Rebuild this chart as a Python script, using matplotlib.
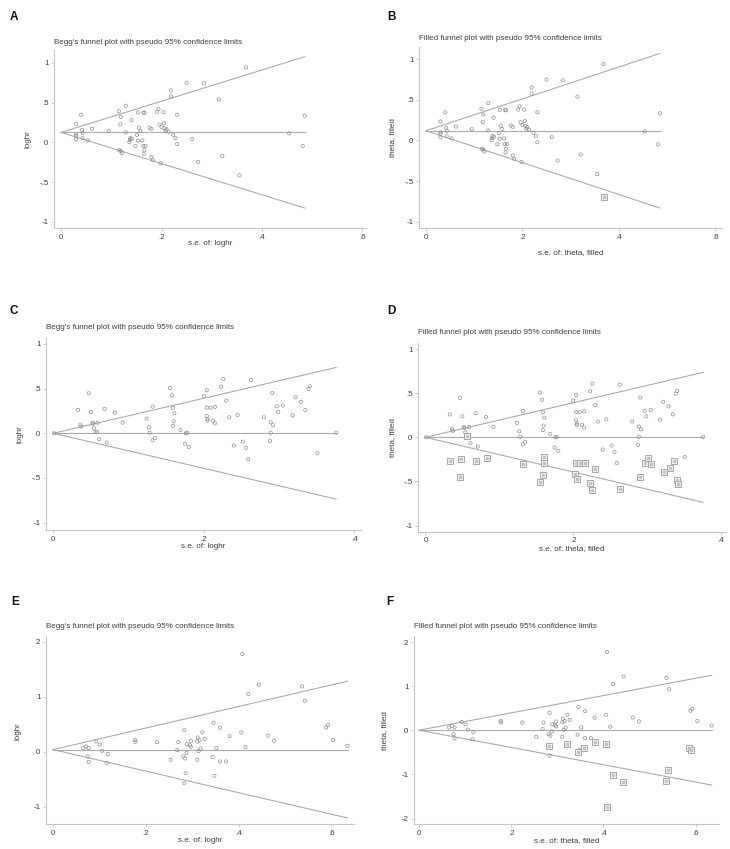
import numpy as np
import matplotlib.pyplot as plt

plt.rcParams['font.family'] = ['Liberation Sans', 'DejaVu Sans']

# ---- data ----
# A / B : first outcome (loghr against its standard error)
se_a = [0.030, 0.040, 0.030, 0.030, 0.030, 0.042, 0.043, 0.043, 0.053, 0.062,
        0.095, 0.115, 0.119, 0.129, 0.118, 0.116, 0.119, 0.121, 0.129, 0.138,
        0.140, 0.136, 0.137, 0.141, 0.148, 0.153, 0.155, 0.151, 0.158, 0.153,
        0.162, 0.164, 0.166, 0.164, 0.168, 0.166, 0.165, 0.176, 0.180, 0.180,
        0.183, 0.191, 0.194, 0.196, 0.200, 0.198, 0.204, 0.205, 0.206, 0.208,
        0.210, 0.214, 0.219, 0.219, 0.223, 0.228, 0.231, 0.231, 0.250, 0.261,
        0.273, 0.284, 0.314, 0.321, 0.355, 0.368, 0.454, 0.481, 0.485]
loghr_a = [0.234, 0.347, 0.100, 0.080, 0.038, 0.155, 0.120, 0.054, 0.025, 0.170,
           0.140, 0.390, 0.320, 0.460, 0.225, -0.100, -0.110, -0.134, 0.125, 0.054,
           0.280, 0.004, 0.030, 0.046, -0.046, 0.377, 0.184, 0.092, 0.142, 0.021,
           0.025, 0.372, 0.372, -0.046, -0.046, -0.100, -0.146, 0.184, 0.167, -0.184,
           -0.226, 0.380, 0.420, 0.226, 0.192, -0.264, 0.380, 0.238, 0.176, 0.146,
           0.163, 0.134, 0.653, 0.577, 0.096, 0.054, 0.347, -0.021, 0.749, 0.042,
           -0.247, 0.741, 0.540, -0.172, -0.414, 0.941, 0.113, -0.046, 0.335]
center_a = 0.125
center_b = 0.12
fill_se_b = [0.370]
fill_theta_b = [-0.70]

# C / D : second outcome
se_c = [0.001, 0.033, 0.036, 0.037, 0.047, 0.050, 0.052, 0.053, 0.054, 0.056,
        0.058, 0.059, 0.061, 0.068, 0.071, 0.082, 0.092, 0.124, 0.127, 0.128,
        0.132, 0.132, 0.135, 0.155, 0.158, 0.159, 0.161, 0.160, 0.159, 0.169,
        0.175, 0.176, 0.178, 0.180, 0.200, 0.204, 0.204, 0.204, 0.205, 0.205,
        0.209, 0.212, 0.215, 0.215, 0.223, 0.226, 0.230, 0.234, 0.240, 0.245,
        0.252, 0.256, 0.259, 0.263, 0.280, 0.288, 0.289, 0.291, 0.292, 0.289,
        0.297, 0.299, 0.305, 0.318, 0.322, 0.329, 0.335, 0.339, 0.341, 0.351,
        0.376]
loghr_c = [0.000, 0.260, 0.097, 0.075, 0.448, 0.239, 0.119, 0.108, 0.056, 0.015,
           0.015, 0.119, -0.067, 0.272, -0.104, 0.231, 0.119, 0.164, 0.067, 0.007,
           0.298, -0.078, -0.052, 0.507, 0.425, 0.284, 0.224, 0.134, 0.082, 0.037,
           -0.116, 0.000, 0.007, -0.153, 0.418, 0.481, 0.287, 0.194, 0.157, 0.142,
           0.287, 0.142, 0.295, 0.112, 0.522, 0.608, 0.366, 0.179, -0.138, 0.205,
           -0.093, -0.164, -0.291, 0.597, 0.179, -0.086, 0.123, 0.451, 0.090, 0.007,
           0.302, 0.239, 0.310, 0.201, 0.403, 0.351, 0.261, 0.496, 0.526, -0.224,
           0.007]
center_c = 0.0
center_d = 0.0
fill_se_d = [0.033, 0.048, 0.047, 0.057, 0.069, 0.083, 0.132, 0.155, 0.159, 0.160,
             0.161, 0.202, 0.204, 0.205, 0.210, 0.216, 0.223, 0.226, 0.230, 0.264,
             0.291, 0.298, 0.301, 0.306, 0.323, 0.331, 0.336, 0.340, 0.342]
fill_theta_d = [-0.265, -0.242, -0.447, 0.015, -0.273, -0.235, -0.299, -0.504, -0.424, -0.292,
                -0.227, -0.417, -0.288, -0.473, -0.288, -0.288, -0.515, -0.602, -0.364, -0.591,
                -0.447, -0.295, -0.239, -0.307, -0.398, -0.352, -0.265, -0.489, -0.527]

# E / F : third outcome
se_e = [0.065, 0.071, 0.077, 0.075, 0.077, 0.093, 0.101, 0.106, 0.118, 0.116,
        0.177, 0.178, 0.224, 0.254, 0.270, 0.268, 0.283, 0.281, 0.285, 0.286,
        0.283, 0.289, 0.288, 0.295, 0.297, 0.297, 0.312, 0.311, 0.316, 0.322,
        0.327, 0.311, 0.314, 0.318, 0.346, 0.344, 0.348, 0.352, 0.360, 0.360,
        0.373, 0.381, 0.406, 0.408, 0.415, 0.421, 0.444, 0.464, 0.477, 0.537,
        0.543, 0.589, 0.593, 0.604, 0.635]
loghr_e = [0.067, 0.097, 0.067, -0.085, -0.182, 0.188, 0.134, 0.018, -0.043, -0.200,
           0.213, 0.182, 0.176, -0.146, 0.176, 0.030, 0.395, -0.085, -0.122, -0.389,
           -0.571, 0.140, -0.024, 0.122, 0.201, 0.091, 0.261, 0.188, 0.213, 0.353,
           0.237, -0.146, 0.012, 0.061, 0.529, -0.097, -0.438, 0.067, 0.438, -0.176,
           -0.176, 0.286, 0.353, 1.781, 0.085, 1.052, 1.222, 0.292, 0.201, 1.191,
           0.930, 0.444, 0.486, 0.213, 0.109]
center_e = 0.04
center_f = 0.005
fill_se_f = [0.282, 0.321, 0.345, 0.358, 0.381, 0.405, 0.407, 0.420, 0.443, 0.536,
             0.541, 0.586, 0.591]
fill_theta_f = [-0.348, -0.300, -0.490, -0.390, -0.260, -0.300, -1.730, -1.010, -1.170, -1.150,
                -0.890, -0.400, -0.450]

# tick labels (Stata style, no leading zero)
yticks_ab = [1, 0.5, 0, -0.5, -1]
yticklabels_ab = ['1', '.5', '0', '-.5', '-1']
xticks_ab = [0, 0.2, 0.4, 0.6]
xticklabels_ab = ['0', '.2', '.4', '.6']
xticks_cd = [0, 0.2, 0.4]
xticklabels_cd = ['0', '.2', '.4']
yticks_e = [2, 1, 0, -1]
yticklabels_e = ['2', '1', '0', '-1']
yticks_f = [2, 1, 0, -1, -2]
yticklabels_f = ['2', '1', '0', '-1', '-2']

TITLE_BEGG = "Begg's funnel plot with pseudo 95% confidence limits"
TITLE_FILL = "Filled funnel plot with pseudo 95% confidence limits"

W, H = 730, 849
fig = plt.figure(figsize=(W / 100, H / 100), dpi=100)

GRAY_LINE = '#ababab'
GRAY_MARK = '#8e8e8e'
GRAY_AXIS = '#c4c4c4'
TEXT = '#3c3c3c'


def px_rect(x0, y0, x1, y1):
    return [x0 / W, 1 - y1 / H, (x1 - x0) / W, (y1 - y0) / H]


def funnel(box, xlim, ylim, se, theta, center, xticks, xtl, yticks, ytl,
           title, title_y, letter, letter_xy, xlabel, xlabel_y, ylabel, ylabel_x,
           fill_se=None, fill_theta=None):
    ax = fig.add_axes(px_rect(*box))
    se_max = max(se)
    s = np.array([0, se_max])
    # centre line and pseudo 95% limits
    ax.plot(s, [center, center], color=GRAY_LINE, lw=0.8)
    ax.plot(s, center + 1.96 * s, color=GRAY_LINE, lw=0.8)
    ax.plot(s, center - 1.96 * s, color=GRAY_LINE, lw=0.8)
    ax.scatter(se, theta, s=5.5, facecolors='none', edgecolors=GRAY_MARK, linewidths=0.5, zorder=3)
    if fill_se is not None:
        # imputed studies: boxed squares
        ax.scatter(fill_se, fill_theta, s=14, marker='s', facecolors='#f4f4f4',
                   edgecolors='#9a9a9a', linewidths=0.6, zorder=3)
        ax.scatter(fill_se, fill_theta, s=2, marker='s', color='#c2c2c2', zorder=4)
    ax.set_xlim(xlim)
    ax.set_ylim(ylim)
    ax.set_xticks(xticks)
    ax.set_xticklabels(xtl)
    ax.set_yticks(yticks)
    ax.set_yticklabels(ytl)
    for side in ['top', 'right']:
        ax.spines[side].set_visible(False)
    for side in ['left', 'bottom']:
        ax.spines[side].set_color(GRAY_AXIS)
        ax.spines[side].set_linewidth(0.8)
    ax.tick_params(length=2.5, width=0.6, color=GRAY_AXIS, labelsize=5.7,
                   labelcolor=TEXT, pad=1.5)
    x0, y0, x1, y1 = box
    fig.text(x0 / W, 1 - title_y / H, title, fontsize=5.8, color=TEXT, ha='left', va='center')
    fig.text(letter_xy[0] / W, 1 - letter_xy[1] / H, letter, fontsize=8.5, weight='bold',
             color='#111111', ha='left', va='center')
    fig.text((x0 + x1) / 2 / W, 1 - xlabel_y / H, xlabel, fontsize=5.8, color=TEXT,
             ha='center', va='center')
    fig.text(ylabel_x / W, 1 - (y0 + y1) / 2 / H, ylabel, fontsize=5.8, color=TEXT,
             ha='center', va='center', rotation=90)
    return ax


funnel((54, 50, 366, 228.3), (-0.014, 0.607), (-1.08, 1.16), se_a, loghr_a, center_a,
       xticks_ab, xticklabels_ab, yticks_ab, yticklabels_ab,
       TITLE_BEGG, 42, 'A', (10, 16.5), 's.e. of: loghr', 243.5, 'loghr', 28)

funnel((419, 47, 722, 228.3), (-0.0145, 0.614), (-1.08, 1.15), se_a, loghr_a, center_b,
       xticks_ab, xticklabels_ab, yticks_ab, yticklabels_ab,
       TITLE_FILL, 38, 'B', (387, 16.5), 's.e. of: theta, filled', 253, 'theta, filled', 393,
       fill_se_b, fill_theta_b)

funnel((46, 338, 361, 530), (-0.0097, 0.409), (-1.083, 1.067), se_c, loghr_c, center_c,
       xticks_cd, xticklabels_cd, yticks_ab, yticklabels_ab,
       TITLE_BEGG, 327, 'C', (9, 311), 's.e. of: loghr', 546.5, 'loghr', 20)

funnel((418, 343, 726, 531.7), (-0.010, 0.407), (-1.07, 1.07), se_c, loghr_c, center_d,
       xticks_cd, xticklabels_cd, yticks_ab, yticklabels_ab,
       TITLE_FILL, 332.7, 'D', (387, 311), 's.e. of: theta, filled', 548.5, 'theta, filled', 393,
       fill_se_d, fill_theta_d)

funnel((46, 637, 354, 824.3), (-0.015, 0.649), (-1.32, 2.09), se_e, loghr_e, center_e,
       xticks_ab, xticklabels_ab, yticks_e, yticklabels_e,
       TITLE_BEGG, 626, 'E', (11, 602), 's.e. of: loghr', 841, 'loghr', 18)

funnel((414, 636, 719, 824.3), (-0.011, 0.651), (-2.13, 2.14), se_e, loghr_e, center_f,
       xticks_ab, xticklabels_ab, yticks_f, yticklabels_f,
       TITLE_FILL, 626, 'F', (386, 602), 's.e. of: theta, filled', 841, 'theta, filled', 385,
       fill_se_f, fill_theta_f)

fig.savefig('out.png', dpi=100, facecolor='white')
